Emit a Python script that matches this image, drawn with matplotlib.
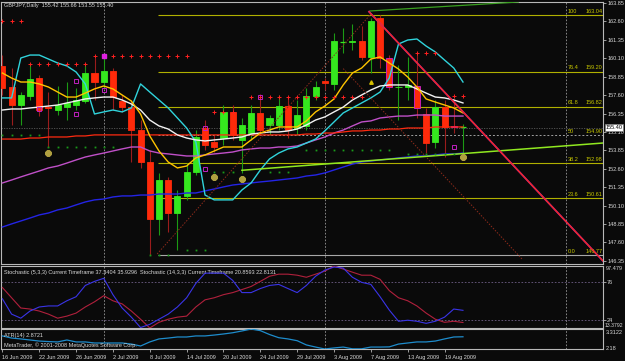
import matplotlib
matplotlib.use("Agg")
import matplotlib.pyplot as plt
import matplotlib.transforms as mtransforms
from matplotlib.patches import Rectangle

plt.rcParams["font.family"] = ["Liberation Sans Narrow", "Liberation Sans", "DejaVu Sans"]

W, H = 625, 361
BG = "#0a0a0a"
TXT = "#d8d8d8"
FS = 4.0

# ---------------- data ----------------
date_idx = [0, 4, 8, 12, 16, 20, 24, 28, 32, 36, 40, 44, 48]
date_labels = ["16 Jun 2009", "22 Jun 2009", "26 Jun 2009", "2 Jul 2009", "8 Jul 2009",
               "14 Jul 2009", "20 Jul 2009", "24 Jul 2009", "29 Jul 2009", "3 Aug 2009",
               "7 Aug 2009", "13 Aug 2009", "19 Aug 2009"]

opens = [159.58, 158.15, 156.93, 157.54, 158.76, 156.79, 156.59, 156.79, 156.93, 157.20,
         159.10, 158.49, 159.24, 157.20, 156.79, 155.23, 153.06, 149.20, 151.84, 149.60,
         150.76, 152.39, 155.37, 154.42, 154.69, 156.46, 154.56, 155.03, 156.39, 155.57,
         155.57, 156.86, 155.37, 155.51, 157.54, 158.56, 158.36, 161.20, 161.20, 161.27,
         160.19, 162.83, 160.12, 158.12, 158.15, 158.22, 156.32, 154.42, 156.79, 155.50,
         155.42]
highs = [160.32, 159.44, 157.81, 159.78, 158.97, 157.81, 158.22, 158.49, 158.08, 159.78,
         160.12, 160.32, 159.44, 157.61, 157.27, 155.91, 153.88, 152.32, 152.05, 151.16,
         152.99, 155.23, 155.91, 154.90, 156.93, 156.93, 156.05, 156.93, 157.68, 156.25,
         157.61, 157.54, 157.27, 158.08, 158.56, 158.76, 161.82, 162.15, 162.43, 162.29,
         162.83, 163.04, 160.32, 159.64, 160.19, 160.39, 156.73, 157.27, 157.27, 157.20,
         155.66]
lows = [157.61, 155.57, 155.57, 157.27, 156.18, 154.08, 156.25, 155.91, 156.59, 157.07,
        157.27, 158.15, 156.59, 156.46, 153.06, 152.66, 146.77, 148.11, 148.31, 147.09,
        150.49, 152.18, 153.88, 153.74, 154.22, 154.56, 152.32, 154.56, 154.90, 154.90,
        155.23, 154.69, 154.90, 155.23, 157.27, 157.95, 157.95, 160.46, 160.66, 159.98,
        159.10, 159.44, 157.95, 155.91, 157.27, 156.05, 153.67, 154.01, 153.40, 155.03,
        153.55]
closes = [158.08, 156.93, 157.61, 158.69, 156.59, 156.73, 156.93, 157.07, 157.27, 159.10,
          158.49, 159.24, 157.47, 156.79, 155.23, 153.06, 149.20, 151.84, 149.60, 150.76,
          152.39, 154.76, 154.22, 154.08, 156.46, 154.90, 155.57, 156.39, 155.23, 156.05,
          156.86, 155.23, 156.25, 157.54, 158.15, 158.42, 161.27, 161.22, 161.27, 160.19,
          162.63, 160.12, 158.15, 158.18, 158.29, 156.73, 154.35, 156.79, 155.44, 155.42,
          155.40]
magenta_bars = [42, 45, 49]

ma_gold = [159.10, 158.76, 158.49, 158.49, 158.36, 158.15, 157.81, 157.47, 157.47, 157.74,
           158.02, 158.22, 158.02, 157.61, 157.20, 156.32, 154.83, 153.81, 153.06, 152.66,
           152.79, 153.34, 153.54, 153.81, 154.08, 154.08, 154.08, 154.56, 155.03, 155.23,
           155.44, 155.44, 155.44, 155.85, 156.46, 156.86, 157.34, 158.29, 159.10, 159.44,
           160.05, 160.19, 159.78, 159.37, 158.83, 158.15, 157.34, 157.13, 156.93, 156.73,
           156.39]
ma_white = [156.59, 156.66, 156.66, 156.73, 156.79, 156.86, 156.93, 157.07, 157.20, 157.34,
            157.41, 157.47, 157.47, 157.27, 157.00, 156.59, 155.91, 155.51, 155.30, 154.90,
            154.69, 154.56, 154.49, 154.56, 154.62, 154.69, 154.76, 154.96, 155.03, 155.10,
            155.10, 155.17, 155.30, 155.57, 155.91, 156.12, 156.46, 156.79, 157.27, 157.61,
            157.95, 158.22, 158.29, 158.29, 158.29, 158.02, 157.74, 157.47, 157.41, 157.27,
            157.07]
band_cyan = [157.41, 157.41, 160.12, 160.32, 160.32, 160.05, 159.78, 159.58, 159.17, 158.36,
             156.32, 156.46, 156.59, 156.46, 156.73, 158.36, 157.81, 157.27, 156.73, 156.05,
             155.37, 154.42, 150.82, 150.49, 150.49, 150.49, 151.16, 151.64, 152.52, 153.27,
             153.67, 153.95, 154.08, 154.35, 154.62, 155.17, 155.78, 156.39, 156.73, 157.07,
             157.41, 157.81, 158.76, 161.07, 161.34, 161.41, 160.93, 160.53, 159.98, 159.44,
             158.49]
ma_orchid = [151.64, 151.84, 152.05, 152.25, 152.45, 152.66, 152.79, 152.99, 153.20, 153.40,
             153.54, 153.67, 153.81, 153.95, 154.08, 154.08, 153.81, 153.67, 153.61, 153.54,
             153.47, 153.47, 153.54, 153.61, 153.67, 153.74, 153.88, 153.95, 154.01, 154.01,
             154.08, 154.08, 154.15, 154.35, 154.56, 154.76, 155.03, 155.23, 155.51, 155.78,
             155.85, 156.05, 156.12, 156.18, 156.18, 156.25, 156.25, 156.25, 156.18, 156.18,
             156.18]
ma_red = [154.62, 154.62, 154.62, 154.69, 154.69, 154.76, 154.76, 154.76, 154.83, 154.83,
          154.90, 154.90, 154.90, 154.90, 154.90, 154.90, 154.90, 154.90, 154.90, 154.90,
          154.90, 154.90, 154.90, 154.90, 154.90, 154.90, 154.90, 154.90, 154.90, 154.90,
          154.90, 154.90, 154.90, 154.96, 154.96, 155.03, 155.03, 155.10, 155.17, 155.17,
          155.23, 155.23, 155.30, 155.30, 155.37, 155.37, 155.37, 155.44, 155.44, 155.44,
          155.44]
ma_blue = [148.65, 148.86, 149.06, 149.26, 149.47, 149.60, 149.81, 149.94, 150.15, 150.35,
           150.49, 150.55, 150.69, 150.76, 150.76, 150.82, 150.82, 150.89, 150.89, 150.89,
           150.96, 150.96, 151.10, 151.23, 151.37, 151.50, 151.57, 151.64, 151.71, 151.77,
           151.84, 151.91, 151.98, 152.11, 152.18, 152.32, 152.52, 152.72, 152.92, 153.06,
           153.13, 153.20, 153.27, 153.34, 153.40, 153.47, 153.47, 153.54, 153.61, 153.61,
           153.67]

stoch_fast = [53.0, 32.2, 26.7, 36.4, 41.9, 43.3, 43.3, 50.3, 55.8, 71.1,
              76.6, 80.8, 58.6, 40.5, 28.1, 14.0, 18.3, 25.3, 32.2, 41.9,
              54.4, 73.9, 87.8, 87.8, 87.8, 78.0, 61.4, 61.4, 66.9, 71.1,
              72.5, 66.9, 61.4, 71.1, 83.6, 91.9, 96.1, 94.7, 82.2, 75.3,
              72.5, 55.8, 37.7, 22.5, 23.9, 22.5, 19.7, 22.5, 28.1, 39.1,
              37.34]
stoch_slow = [68.3, 54.4, 40.5, 39.1, 36.4, 32.2, 26.7, 29.5, 33.6, 41.9,
              48.9, 57.2, 50.3, 46.1, 36.4, 25.3, 13.38, 21.1, 25.3, 28.1,
              29.5, 41.9, 51.6, 54.4, 58.6, 61.4, 65.5, 69.7, 76.6, 83.6,
              86.4, 86.4, 85.0, 82.2, 86.4, 90.5, 97.48, 93.3, 89.1, 85.0,
              85.0, 79.4, 64.1, 54.4, 50.3, 43.3, 33.6, 25.3, 21.1, 22.5,
              20.86]
atr = [2.92, 2.80, 2.75, 2.69, 2.63, 2.60, 2.58, 2.69, 2.58, 2.58,
       2.52, 2.52, 2.52, 2.52, 2.46, 2.35, 2.58, 2.75, 2.80, 2.86,
       2.86, 2.92, 2.92, 2.97, 3.03, 3.10, 3.20, 3.31, 3.22, 3.00,
       2.82, 2.75, 2.65, 2.41, 2.29, 2.18, 2.24, 2.29, 2.19, 2.19,
       2.29, 2.29, 2.30, 2.46, 2.52, 2.58, 2.58, 2.63, 2.75, 2.86,
       2.8721]

fib_names = ["0.0", "23.6", "38.2", "50", "61.8", "76.4", "100"]
fib_prices = [146.77, 150.61, 152.98, 154.90, 156.82, 159.20, 163.04]

price_ticks = [163.85, 162.60, 161.35, 160.10, 158.85, 157.60, 156.35, 155.10,
               153.85, 152.60, 151.35, 150.10, 148.85, 147.60, 146.35]

# fractal levels: (first bar, last bar, price)
resist_levels = [(0, 2, 162.63), (3, 9, 159.71), (10, 20, 160.26), (23, 25, 156.46),
                 (27, 39, 157.47), (45, 47, 160.46), (49, 50, 157.54)]
support_levels = [(0, 4, 154.90), (5, 12, 154.08), (16, 18, 146.75), (20, 22, 147.09),
                  (23, 25, 152.39), (29, 31, 152.39), (33, 42, 153.88), (44, 49, 153.61)]
square_x = [4, 8, 8, 11, 22, 22, 28, 49]
square_y = [156.66, 158.56, 156.32, 157.95, 155.37, 152.59, 157.47, 154.08]
circle_x = [5, 23, 26, 50]
circle_y = [153.67, 152.05, 151.91, 153.40]

# trend lines (bar, price) pairs
red_trend = ([39.8, 65.3], [163.26, 146.28])
green_top = ([39.9, 56.0], [163.31, 163.92])
green_low = ([26.0, 65.2], [152.50, 154.35])
dot_up = ([16.8, 40.1], [146.82, 163.17])
dot_down = ([37.0, 56.5], [159.40, 146.42])
separators = [11, 35, 61.2]

XL = (-0.15, 65.2)

fig = plt.figure(figsize=(W / 100, H / 100), dpi=100, facecolor=BG)


def px_axes(x0, y0, x1, y1):
    ax = fig.add_axes([x0 / W, 1 - y1 / H, (x1 - x0) / W, (y1 - y0) / H])
    ax.set_facecolor(BG)
    for s in ax.spines.values():
        s.set_color("#b8b8b8")
        s.set_linewidth(0.8)
    ax.set_xlim(*XL)
    ax.tick_params(colors=TXT, labelsize=FS, length=2, width=0.5, pad=1)
    ax.yaxis.tick_right()
    ax.set_xticks([])
    for xs in separators:
        ax.axvline(xs, color="#9a9a9a", ls=(0, (2, 2)), lw=0.6, zorder=1)
    return ax


main = px_axes(1, 2, 603, 264)
stoch = px_axes(1, 266, 603, 328)
atr_ax = px_axes(1, 329, 603, 349)

# ---------------- main chart ----------------
main.set_ylim(146.14, 163.92)
main.set_yticks(price_ticks)
main.set_yticklabels([f"{p:.2f}" for p in price_ticks])

# fibonacci
for name, p in zip(fib_names, fib_prices):
    if name == "50":
        main.hlines(p, 16.9, XL[1], color="#a0a0a0", ls=(0, (2, 2)), lw=0.7, zorder=2)
    elif name == "0.0":
        main.hlines(p, 16.9, XL[1], color="#a8a8a8", lw=0.8, zorder=2)
    else:
        main.hlines(p, 16.9, XL[1], color="#b0b000", lw=0.8, zorder=2)
    main.text(61.4, p + 0.08, name, color="#c8c800", fontsize=FS, va="bottom", ha="left", zorder=6)
    main.text(63.3, p + 0.08, f"{p:.2f}", color="#c8c800", fontsize=FS, va="bottom", ha="left", zorder=6)

main.axhline(closes[-1], color="#5a5a5a", ls=(0, (1.5, 1.5)), lw=0.6, zorder=2)

# candles
for i, (o, h, l, c) in enumerate(zip(opens, highs, lows, closes)):
    bull = c >= o or abs(c - o) < 0.05
    body = "#35e81e" if bull else "#ff2a0a"
    wick = "#1c9a14" if bull else "#9a1c1c"
    edge = "#d020d0" if i in magenta_bars else body
    main.vlines(i, l, h, color=wick, lw=0.8, zorder=3)
    lo, hi = min(o, c), max(o, c)
    if hi - lo < 0.05:
        main.hlines((o + c) / 2, i - 0.33, i + 0.33, color=body, lw=0.9, zorder=4)
    else:
        main.add_patch(Rectangle((i - 0.33, lo), 0.66, hi - lo, facecolor=body,
                                 edgecolor=edge, lw=0.6, zorder=4))

x = list(range(len(opens)))
main.plot(x, ma_blue, color="#2424e6", lw=1.0, zorder=5)
main.plot(x, ma_orchid, color="#c050c8", lw=1.0, zorder=5)
main.plot(x, ma_red, color="#ff2a10", lw=0.9, zorder=5)
main.plot(x, band_cyan, color="#30d4dc", lw=1.0, zorder=5)
main.plot(x, ma_white, color="#f2f2f2", lw=1.0, zorder=5)
main.plot(x, ma_gold, color="#ffc400", lw=1.0, zorder=5)

main.plot(*dot_up, color="#8a2a1a", ls=(0, (1.5, 1.5)), lw=0.7, zorder=5)
main.plot(*dot_down, color="#8a2a1a", ls=(0, (1.5, 1.5)), lw=0.7, zorder=5)
main.plot(*green_top, color="#3aa020", lw=0.9, zorder=5)
main.plot(*green_low, color="#90e820", lw=1.1, zorder=5)
main.plot(*red_trend, color="#b020a8", lw=1.3, zorder=5)
main.plot(*red_trend, color="#ff2a10", lw=0.8, zorder=6)

for a, b, p in resist_levels:
    main.plot(range(a, b + 1), [p] * (b - a + 1), ls="none", marker="+", ms=2.6,
              mew=0.7, color="#ff2020", zorder=6)
for a, b, p in support_levels:
    main.plot(range(a, b + 1), [p] * (b - a + 1), ls="none", marker="s", ms=1.3,
              mew=0, color="#1a9a1a", zorder=6)
main.plot(11, 160.26, ls="none", marker="s", ms=2.6, color="#e020e0", zorder=7)
main.plot(square_x, square_y, ls="none", marker="s", ms=2.8, mfc="none", mec="#c020c0",
          mew=0.7, zorder=7)
main.plot(circle_x, circle_y, ls="none", marker="$\\otimes$", ms=4, color="#b0a040", zorder=7)
main.plot(40, 158.49, ls="none", marker="^", ms=2.5, color="#d8c000", zorder=7)

tr = mtransforms.blended_transform_factory(main.transAxes, main.transData)
main.text(1.004, closes[-1], f"{closes[-1]:.2f}", transform=tr, fontsize=FS, color="black",
          va="center", ha="left", zorder=10,
          bbox=dict(boxstyle="square,pad=0.15", fc="white", ec="#808080", lw=0.5))

fig.text(4 / W, 1 - 6 / H, "GBPJPY,Daily  155.42 155.66 153.55 155.40", color=TXT,
         fontsize=FS, va="center", ha="left")

# ---------------- stochastic ----------------
stoch.set_ylim(13.3792, 97.479)
stoch.set_yticks([24, 76])
stoch.set_yticklabels(["24", "76"])
for lv in (24, 76):
    stoch.axhline(lv, color="#6e5e86", ls=(0, (2, 2)), lw=0.6, zorder=1)
stoch.plot(x, stoch_slow, color="#b0203c", lw=0.8, zorder=3)
stoch.plot(x, stoch_fast, color="#3a34e8", lw=0.8, zorder=4)
stoch.text(1.004, 1.0, "97.479", transform=stoch.transAxes, color=TXT, fontsize=FS, va="top")
stoch.text(1.003, 0.0, "13.3792", transform=stoch.transAxes, color=TXT, fontsize=FS - 0.3,
           va="bottom")
stoch.text(0.005, 0.93, "Stochastic (5,3,3) Current Timeframe 37.3404 35.9296  "
           "Stochastic (14,3,3) Current Timeframe 20.8593 22.8131",
           transform=stoch.transAxes, color=TXT, fontsize=FS, va="top")

# ---------------- ATR ----------------
atr_ax.set_ylim(2.18, 3.3122)
atr_ax.set_yticks([])
atr_ax.plot(x, atr, color="#1e8ccc", lw=0.9, zorder=3)
atr_ax.text(1.004, 0.8, "3.3122", transform=atr_ax.transAxes, color=TXT, fontsize=FS, va="center")
atr_ax.text(1.004, 0.05, "2.18", transform=atr_ax.transAxes, color=TXT, fontsize=FS, va="center")
atr_ax.text(0.005, 0.68, "ATR(14) 2.8721", transform=atr_ax.transAxes, color=TXT,
            fontsize=FS, va="center")
atr_ax.text(0.005, 0.18, "MetaTrader, \u00a9 2001-2008 MetaQuotes Software Corp.",
            transform=atr_ax.transAxes, color=TXT, fontsize=FS, va="center")

atr_ax.set_xticks(date_idx)
atr_ax.set_xticklabels(date_labels, ha="left")
atr_ax.tick_params(axis="x", colors=TXT, labelsize=FS, length=2, pad=2)

fig.savefig("out.png", dpi=100, facecolor=BG)
